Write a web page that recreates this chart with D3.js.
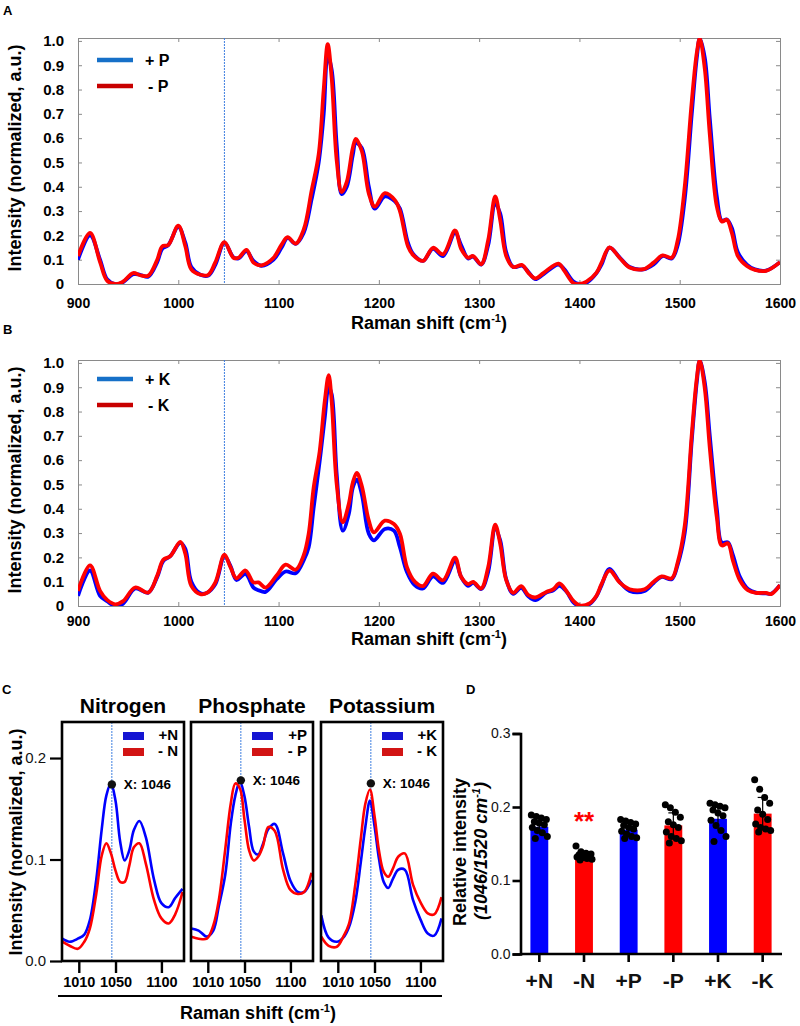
<!DOCTYPE html>
<html lang="en">
<head>
<meta charset="UTF-8">
<title>Raman spectra N P K</title>
<script src="https://d3js.org/d3.v7.min.js"></script>
<style>
    body { margin: 0; background: #fff; }
    svg text { font-family: "Liberation Sans", Arial, Helvetica, sans-serif; }
</style>
</head>
<body>
<svg id="chart" width="800" height="1026"></svg>
<script>

    // ---- panel A : +P / -P spectra (Raman shift, normalized intensity)
    var shiftA = [900, 912, 922, 929, 937, 944, 955, 962, 970, 979, 984, 990, 1000, 1007, 1013, 1022, 1030, 1037, 1046, 1055,
        1060, 1068, 1075, 1083, 1095, 1103, 1109, 1117, 1125, 1133, 1140, 1145, 1149, 1153, 1158, 1163, 1168, 1174, 1177, 1183,
        1190, 1196, 1206, 1216, 1221, 1229, 1234, 1244, 1254, 1264, 1276, 1282, 1289, 1294, 1302, 1309, 1316, 1321, 1327, 1334,
        1343, 1349, 1356, 1364, 1379, 1385, 1394, 1400, 1407, 1417, 1422, 1430, 1440, 1450, 1464, 1474, 1483, 1492, 1498, 1505,
        1512, 1517, 1520, 1525, 1530, 1537, 1542, 1547, 1552, 1558, 1567, 1575, 1586, 1600];
    var plusP = [0.10, 0.20, 0.10, 0.02, 0.0, 0.005, 0.04, 0.038, 0.03, 0.09, 0.145, 0.16, 0.235, 0.17, 0.07, 0.038, 0.035, 0.08, 0.17, 0.11,
        0.105, 0.135, 0.095, 0.075, 0.10, 0.15, 0.19, 0.165, 0.21, 0.35, 0.50, 0.70, 0.94, 0.88, 0.57, 0.37, 0.40, 0.53, 0.58, 0.56,
        0.40, 0.31, 0.36, 0.34, 0.31, 0.17, 0.125, 0.095, 0.145, 0.115, 0.21, 0.16, 0.105, 0.113, 0.08, 0.16, 0.33, 0.29, 0.13, 0.07,
        0.075, 0.05, 0.02, 0.04, 0.08, 0.06, 0.01, 0.0, 0.005, 0.045, 0.08, 0.15, 0.11, 0.07, 0.06, 0.08, 0.115, 0.105, 0.16, 0.35,
        0.70, 0.93, 1.01, 0.93, 0.68, 0.36, 0.26, 0.265, 0.23, 0.13, 0.08, 0.06, 0.055, 0.09];
    var minusP = [0.115, 0.21, 0.09, 0.014, 0.0, 0.007, 0.045, 0.036, 0.034, 0.10, 0.155, 0.16, 0.24, 0.155, 0.06, 0.038, 0.038, 0.09, 0.172, 0.108,
        0.108, 0.14, 0.088, 0.077, 0.108, 0.162, 0.193, 0.166, 0.223, 0.385, 0.534, 0.80, 0.987, 0.845, 0.507, 0.378, 0.42, 0.56, 0.597, 0.547,
        0.372, 0.318, 0.374, 0.345, 0.30, 0.155, 0.12, 0.095, 0.149, 0.122, 0.22, 0.145, 0.108, 0.115, 0.081, 0.18, 0.36, 0.263, 0.115, 0.07,
        0.078, 0.047, 0.023, 0.045, 0.084, 0.054, 0.004, 0.0, 0.01, 0.047, 0.088, 0.151, 0.108, 0.068, 0.061, 0.088, 0.118, 0.108, 0.18, 0.40,
        0.75, 0.95, 1.01, 0.885, 0.615, 0.318, 0.257, 0.264, 0.21, 0.115, 0.074, 0.058, 0.054, 0.09];

    // ---- panel B : +K / -K spectra
    var shiftB = [900, 912, 922, 929, 937, 945, 957, 970, 979, 985, 992, 1002, 1007, 1013, 1022, 1029, 1037, 1046, 1052, 1058,
        1067, 1075, 1080, 1087, 1098, 1107, 1117, 1125, 1130, 1135, 1141, 1146, 1150, 1153, 1158, 1164, 1170, 1174, 1178, 1183,
        1190, 1195, 1206, 1215, 1221, 1228, 1236, 1244, 1254, 1264, 1276, 1282, 1289, 1294, 1302, 1309, 1316, 1321, 1327, 1334,
        1342, 1349, 1356, 1367, 1374, 1380, 1387, 1394, 1400, 1410, 1417, 1422, 1430, 1440, 1450, 1465, 1474, 1482, 1492, 1498,
        1505, 1512, 1517, 1520, 1525, 1530, 1537, 1542, 1548, 1553, 1560, 1568, 1576, 1586, 1591, 1600];
    var plusK = [0.042, 0.146, 0.042, 0.02, 0.0, 0.01, 0.072, 0.055, 0.12, 0.185, 0.205, 0.26, 0.235, 0.10, 0.052, 0.055, 0.09, 0.205, 0.165, 0.107,
        0.132, 0.076, 0.065, 0.058, 0.11, 0.142, 0.135, 0.188, 0.242, 0.405, 0.596, 0.773, 0.90, 0.87, 0.54, 0.31, 0.378, 0.487, 0.52, 0.46,
        0.297, 0.27, 0.317, 0.31, 0.242, 0.14, 0.085, 0.072, 0.122, 0.095, 0.185, 0.12, 0.083, 0.095, 0.07, 0.14, 0.317, 0.27, 0.11, 0.05,
        0.075, 0.04, 0.024, 0.055, 0.065, 0.083, 0.06, 0.015, 0.0, 0.008, 0.04, 0.085, 0.153, 0.10, 0.062, 0.062, 0.095, 0.12, 0.11, 0.17,
        0.30, 0.68, 0.92, 1.01, 0.92, 0.70, 0.40, 0.26, 0.262, 0.21, 0.12, 0.07, 0.055, 0.052, 0.05, 0.086];
    var minusK = [0.062, 0.167, 0.062, 0.025, 0.007, 0.02, 0.076, 0.055, 0.125, 0.19, 0.205, 0.264, 0.215, 0.083, 0.049, 0.055, 0.097, 0.211, 0.16, 0.114,
        0.146, 0.097, 0.097, 0.076, 0.125, 0.17, 0.149, 0.208, 0.297, 0.487, 0.637, 0.84, 0.95, 0.84, 0.50, 0.344, 0.42, 0.507, 0.548, 0.494,
        0.351, 0.303, 0.351, 0.337, 0.297, 0.16, 0.099, 0.082, 0.133, 0.106, 0.199, 0.12, 0.09, 0.099, 0.072, 0.16, 0.335, 0.256, 0.106, 0.054,
        0.082, 0.045, 0.035, 0.058, 0.069, 0.093, 0.062, 0.021, 0.003, 0.011, 0.042, 0.09, 0.146, 0.097, 0.069, 0.069, 0.10, 0.122, 0.114, 0.18,
        0.33, 0.705, 0.936, 1.01, 0.895, 0.65, 0.365, 0.249, 0.258, 0.188, 0.106, 0.065, 0.054, 0.054, 0.049, 0.086];

    var spectrumTicksX = [900, 1000, 1100, 1200, 1300, 1400, 1500, 1600];
    var spectrumTicksY = [0, 0.1, 0.2, 0.3, 0.4, 0.5, 0.6, 0.7, 0.8, 0.9, 1.0];

    // ---- panel C : zoom around 1046 cm-1
    var zoomShift = [992, 1000, 1009, 1016, 1022, 1029, 1035, 1040, 1045, 1050, 1055, 1060, 1065, 1070, 1076, 1083, 1092, 1100, 1108, 1115, 1123];
    var plusN = [0.022, 0.019, 0.022, 0.026, 0.04, 0.08, 0.13, 0.163, 0.175, 0.158, 0.118, 0.099, 0.109, 0.129, 0.138, 0.122, 0.08, 0.057, 0.053, 0.062, 0.071];
    var minusN = [0.019, 0.015, 0.012, 0.019, 0.032, 0.066, 0.104, 0.116, 0.106, 0.089, 0.078, 0.078, 0.094, 0.112, 0.116, 0.096, 0.06, 0.042, 0.037, 0.046, 0.068];
    var plusPz = [0.032, 0.030, 0.024, 0.03, 0.054, 0.085, 0.135, 0.163, 0.177, 0.162, 0.132, 0.108, 0.105, 0.115, 0.13, 0.135, 0.106, 0.079, 0.068, 0.068, 0.08];
    var minusPz = [0.024, 0.022, 0.022, 0.035, 0.06, 0.11, 0.155, 0.175, 0.17, 0.139, 0.109, 0.099, 0.103, 0.113, 0.132, 0.128, 0.09, 0.07, 0.066, 0.068, 0.087];
    var plusKz = [0.045, 0.023, 0.019, 0.023, 0.033, 0.058, 0.097, 0.132, 0.158, 0.133, 0.10, 0.078, 0.072, 0.081, 0.09, 0.09, 0.06, 0.041, 0.027, 0.025, 0.042];
    var minusKz = [0.024, 0.015, 0.014, 0.024, 0.036, 0.075, 0.12, 0.155, 0.169, 0.143, 0.108, 0.088, 0.083, 0.091, 0.103, 0.106, 0.075, 0.058, 0.047, 0.046, 0.063];
    var zoomNames = ["Nitrogen", "Phosphate", "Potassium"];
    var zoomLegend = [["+N", "- N"], ["+P", "- P"], ["+K", "- K"]];
    var markerShift = 1046;
    var markerValue = [0.174, 0.178, 0.175];
    var zoomTicksX = [1010, 1050, 1100];
    var zoomTicksY = [0.0, 0.1, 0.2];

    // ---- panel D : relative intensity 1046/1520
    var groups = ["+N", "-N", "+P", "-P", "+K", "-K"];
    var groupMean = [0.173, 0.134, 0.169, 0.175, 0.184, 0.191];
    var groupSD = [0.009, 0.005, 0.009, 0.017, 0.016, 0.022];
    var groupPoints = [
        [0.189, 0.187, 0.185, 0.183, 0.180, 0.178, 0.176, 0.172, 0.168, 0.165, 0.160, 0.157],
        [0.147, 0.139, 0.137, 0.136, 0.135, 0.134, 0.133, 0.132, 0.131, 0.130, 0.129, 0.128],
        [0.183, 0.181, 0.179, 0.177, 0.175, 0.172, 0.170, 0.167, 0.163, 0.160, 0.158, 0.157],
        [0.203, 0.199, 0.193, 0.186, 0.180, 0.176, 0.172, 0.166, 0.160, 0.157, 0.154, 0.151],
        [0.205, 0.203, 0.201, 0.199, 0.196, 0.192, 0.188, 0.182, 0.175, 0.168, 0.160, 0.153],
        [0.237, 0.224, 0.213, 0.205, 0.196, 0.190, 0.183, 0.177, 0.172, 0.170, 0.168, 0.166]
    ];
    var barTicksY = [0.0, 0.1, 0.2, 0.3];

    var BLUE = "#0000ff", RED = "#ff0000";
    var svg = d3.select("#chart");

    function panelLetter(t, x, y) {
        svg.append("text").attr("x", x).attr("y", y).attr("font-size", 13).attr("font-weight", "bold").text(t);
    }

    function drawSpectrum(o) {
        var x = d3.scaleLinear().domain([900, 1600]).range([o.left, o.right]);
        var y = d3.scaleLinear().domain([0, 1.012]).range([o.bottom, o.top]);
        var g = svg.append("g");
        var clipId = "clip" + o.letter;
        g.append("clipPath").attr("id", clipId).append("rect")
            .attr("x", o.left).attr("y", o.top).attr("width", o.right - o.left).attr("height", o.bottom - o.top);

        var bottom = g.append("g").attr("transform", "translate(0," + o.bottom + ")")
            .call(d3.axisBottom(x).tickValues(spectrumTicksX).tickSize(-4).tickPadding(o.labelPad).tickFormat(d3.format("d")));
        var top = g.append("g").attr("transform", "translate(0," + o.top + ")")
            .call(d3.axisTop(x).tickValues(spectrumTicksX).tickSize(-4).tickFormat(""));
        var left = g.append("g").attr("transform", "translate(" + o.left + ",0)")
            .call(d3.axisLeft(y).tickValues(spectrumTicksY).tickSize(-4).tickPadding(14)
                .tickFormat(function (d) { return d === 0 ? "0" : d3.format(".1f")(d); }));
        var right = g.append("g").attr("transform", "translate(" + o.right + ",0)")
            .call(d3.axisRight(y).tickValues(spectrumTicksY).tickSize(-4).tickFormat(""));
        [bottom, top, left, right].forEach(function (a) {
            a.selectAll("path, line").attr("stroke", "#8a8a8a");
            a.selectAll("text").attr("font-family", null).attr("fill", "#000").attr("font-weight", "bold");
        });
        bottom.selectAll("text").attr("font-size", 14);
        left.selectAll("text").attr("font-size", 15);

        // marker line at 1046
        g.append("line").attr("x1", x(1046)).attr("x2", x(1046)).attr("y1", o.top).attr("y2", o.bottom)
            .attr("stroke", "#3f7fe0").attr("stroke-width", 1).attr("stroke-dasharray", "2,1");

        var line = d3.line().x(function (d) { return x(d[0]); }).y(function (d) { return y(d[1]); })
            .curve(d3.curveCatmullRom.alpha(0.5));
        var curves = g.append("g").attr("clip-path", "url(#" + clipId + ")");
        curves.append("path").datum(d3.zip(o.xs, o.plus)).attr("d", line)
            .attr("fill", "none").attr("stroke", BLUE).attr("stroke-width", 3.8).attr("stroke-linejoin", "round");
        curves.append("path").datum(d3.zip(o.xs, o.minus)).attr("d", line)
            .attr("fill", "none").attr("stroke", RED).attr("stroke-width", 3.8).attr("stroke-linejoin", "round");

        // legend
        var leg = [[o.labels[0], "#1670c8", o.legY], [o.labels[1], "#c80000", o.legY + 26]];
        leg.forEach(function (l, i) {
            g.append("line").attr("x1", o.left + 19).attr("x2", o.left + 55).attr("y1", l[2]).attr("y2", l[2])
                .attr("stroke", l[1]).attr("stroke-width", 4.5);
            g.append("text").attr("x", o.left + 67 + i * 3).attr("y", l[2] + 5.5).attr("font-size", 16)
                .attr("font-weight", "bold").text(l[0]);
        });

        g.append("text").attr("x", (o.left + o.right) / 2).attr("y", o.bottom + o.titleGap).attr("text-anchor", "middle")
            .attr("font-size", 18).attr("font-weight", "bold")
            .html('Raman shift (cm<tspan font-size="11" dy="-7">-1</tspan><tspan dy="7">)</tspan>');
        g.append("text").attr("transform", "translate(21," + (o.top + 120) + ") rotate(-90)")
            .attr("text-anchor", "middle").attr("font-size", 18).attr("font-weight", "bold")
            .text("Intensity (normalized, a.u.)");
    }

    panelLetter("A", 3, 15);
    drawSpectrum({letter: "A", left: 78, right: 780, top: 38, bottom: 284, xs: shiftA, plus: plusP, minus: minusP,
        labels: ["+ P", "- P"], legY: 60, labelPad: 14, titleGap: 45});
    panelLetter("B", 3, 334);
    drawSpectrum({letter: "B", left: 78, right: 780, top: 360, bottom: 606, xs: shiftB, plus: plusK, minus: minusK,
        labels: ["+ K", "- K"], legY: 379, labelPad: 10.5, titleGap: 39});

    // ---- panel C
    panelLetter("C", 2, 694);
    var cTop = 722, cBottom = 961, cW = 122;
    var cLefts = [62, 191, 321];
    var cSeries = [[plusN, minusN], [plusPz, minusPz], [plusKz, minusKz]];
    var yC = d3.scaleLinear().domain([0, 0.2355]).range([cBottom, cTop]);

    cLefts.forEach(function (left, k) {
        var xC = d3.scaleLinear().domain([991.7, 1124.6]).range([left, left + cW]);
        var g = svg.append("g");
        g.append("clipPath").attr("id", "clipC" + k).append("rect")
            .attr("x", left).attr("y", cTop).attr("width", cW).attr("height", cBottom - cTop);

        var ax = g.append("g").attr("transform", "translate(0," + cBottom + ")")
            .call(d3.axisBottom(xC).tickValues(zoomTicksX).tickSize(12).tickPadding(4).tickFormat(d3.format("d")));
        ax.select(".domain").remove();
        ax.selectAll("line").attr("stroke", "#000").attr("stroke-width", 2.4);
        ax.selectAll("text").attr("font-family", null).attr("font-size", 14.5).attr("font-weight", "bold").attr("fill", "#000");

        g.append("line").attr("x1", xC(markerShift)).attr("x2", xC(markerShift)).attr("y1", cTop).attr("y2", cBottom)
            .attr("stroke", "#3f7fe0").attr("stroke-width", 1).attr("stroke-dasharray", "2,1");

        var line = d3.line().x(function (d) { return xC(d[0]); }).y(function (d) { return yC(d[1]); })
            .curve(d3.curveCatmullRom.alpha(0.5));
        var cg = g.append("g").attr("clip-path", "url(#clipC" + k + ")");
        cg.append("path").datum(d3.zip(zoomShift, cSeries[k][0])).attr("d", line)
            .attr("fill", "none").attr("stroke", BLUE).attr("stroke-width", 2.6);
        cg.append("path").datum(d3.zip(zoomShift, cSeries[k][1])).attr("d", line)
            .attr("fill", "none").attr("stroke", RED).attr("stroke-width", 2.6);

        g.append("rect").attr("x", left).attr("y", cTop).attr("width", cW).attr("height", cBottom - cTop)
            .attr("fill", "none").attr("stroke", "#000").attr("stroke-width", 2.6);

        g.append("circle").attr("cx", xC(markerShift)).attr("cy", yC(markerValue[k])).attr("r", 4.2).attr("fill", "#111");
        g.append("text").attr("x", xC(markerShift) + 12).attr("y", yC(markerValue[k]) + 5)
            .attr("font-size", 13.5).attr("font-weight", "bold").text("X: " + markerShift);

        // legend
        [[BLUE, 0], [RED, 1]].forEach(function (l) {
            g.append("rect").attr("x", left + 61).attr("y", cTop + 10 + l[1] * 16).attr("width", 21).attr("height", 8)
                .attr("fill", l[0] === BLUE ? "#1414d2" : "#d21414");
            g.append("text").attr("x", left + cW - 6).attr("y", cTop + 18 + l[1] * 16).attr("text-anchor", "end")
                .attr("font-size", 15).attr("font-weight", "bold").text(zoomLegend[k][l[1]]);
        });

        g.append("text").attr("x", left + cW / 2).attr("y", cTop - 9).attr("text-anchor", "middle")
            .attr("font-size", 21).attr("font-weight", "bold").text(zoomNames[k]);
    });

    var ayC = svg.append("g").attr("transform", "translate(62,0)")
        .call(d3.axisLeft(yC).tickValues(zoomTicksY).tickSize(12).tickPadding(4).tickFormat(d3.format(".1f")));
    ayC.select(".domain").remove();
    ayC.selectAll("line").attr("stroke", "#000").attr("stroke-width", 2.2);
    ayC.selectAll("text").attr("font-family", null).attr("font-size", 15).attr("fill", "#111");

    svg.append("line").attr("x1", 58).attr("x2", 442).attr("y1", 996).attr("y2", 996)
        .attr("stroke", "#000").attr("stroke-width", 2);
    svg.append("text").attr("x", 258).attr("y", 1019).attr("text-anchor", "middle")
        .attr("font-size", 18).attr("font-weight", "bold")
        .html('Raman shift (cm<tspan font-size="11" dy="-7">-1</tspan><tspan dy="7">)</tspan>');
    svg.append("text").attr("transform", "translate(22,842) rotate(-90)")
        .attr("text-anchor", "middle").attr("font-size", 18).attr("font-weight", "bold")
        .text("Intensity (normalized, a.u.)");

    // ---- panel D
    panelLetter("D", 466, 694);
    var xD = d3.scaleBand().domain(groups).range([517, 785]).paddingInner(0.6).paddingOuter(0.3);
    var yD = d3.scaleLinear().domain([0, 0.3]).range([954, 733.5]);
    var gD = svg.append("g");

    gD.selectAll("rect.bar").data(groups).enter().append("rect")
        .attr("class", "bar")
        .attr("x", function (d) { return xD(d); })
        .attr("y", function (d, i) { return yD(groupMean[i]); })
        .attr("width", xD.bandwidth())
        .attr("height", function (d, i) { return yD(0) - yD(groupMean[i]); })
        .attr("fill", function (d, i) { return i % 2 === 0 ? BLUE : RED; });

    groups.forEach(function (grp, i) {
        var cx = xD(grp) + xD.bandwidth() / 2;
        var hi = yD(groupMean[i] + groupSD[i]), lo = yD(groupMean[i] - groupSD[i]);
        gD.append("line").attr("x1", cx).attr("x2", cx).attr("y1", hi).attr("y2", lo)
            .attr("stroke", "#000").attr("stroke-width", 1.2);
        gD.append("line").attr("x1", cx - 5).attr("x2", cx + 5).attr("y1", hi).attr("y2", hi)
            .attr("stroke", "#000").attr("stroke-width", 1.2);
        groupPoints[i].forEach(function (v, j) {
            var off = ((j * 5) % 17) - 8;
            gD.append("circle").attr("cx", cx + off).attr("cy", yD(v)).attr("r", 3.5).attr("fill", "#000");
        });
    });

    gD.append("text").attr("x", xD("-N") + xD.bandwidth() / 2).attr("y", 830).attr("text-anchor", "middle")
        .attr("font-size", 26).attr("font-weight", "bold").attr("fill", RED).text("**");

    var axD = gD.append("g").attr("transform", "translate(0,954)")
        .call(d3.axisBottom(xD).tickSize(8).tickPadding(11));
    axD.select(".domain").attr("d", "M520.5,0H782");
    var ayD = gD.append("g").attr("transform", "translate(520.5,0)")
        .call(d3.axisLeft(yD).tickValues(barTicksY).tickSize(8).tickPadding(2).tickFormat(d3.format(".1f")));
    [axD, ayD].forEach(function (a) {
        a.selectAll("path, line").attr("stroke", "#000").attr("stroke-width", 2.6);
        a.selectAll("text").attr("font-family", null).attr("fill", "#111");
    });
    axD.selectAll("text").attr("font-size", 21).attr("font-weight", "bold");
    ayD.selectAll("text").attr("font-size", 14);

    svg.append("text").attr("transform", "translate(466,852) rotate(-90)")
        .attr("text-anchor", "middle").attr("font-size", 18).attr("font-weight", "bold")
        .text("Relative intensity");
    svg.append("text").attr("transform", "translate(487,851) rotate(-90)")
        .attr("text-anchor", "middle").attr("font-size", 18).attr("font-weight", "bold").attr("font-style", "italic")
        .html('(1046/1520 cm<tspan font-size="11" dy="-7">-1</tspan><tspan dy="7">)</tspan>');

</script>
</body>
</html>
